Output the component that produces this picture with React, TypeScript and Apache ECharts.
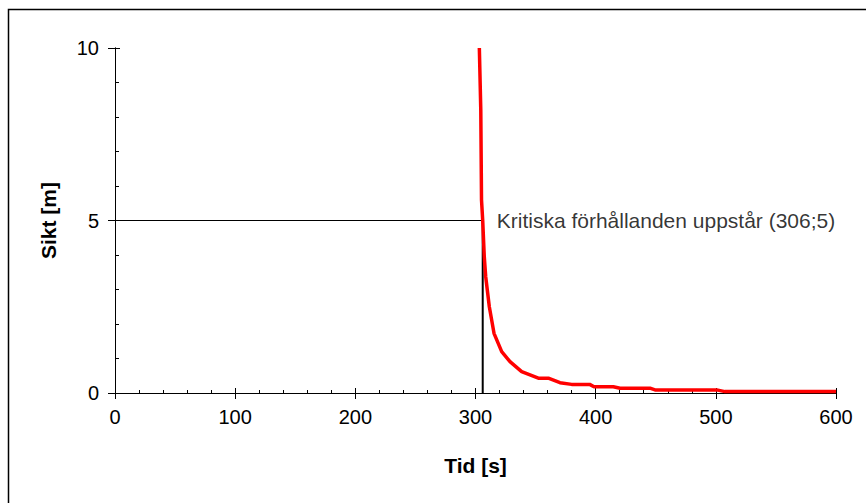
import React, { useEffect, useRef } from "react";
import * as echarts from "echarts";

const curveX = [303.2, 304.4, 305, 306, 307.3, 308.5, 311.5, 315.4, 321.8, 328.7, 338.4, 352.3, 360.6, 370.3, 380, 395, 398.6, 414.7, 420.3, 445.2, 449.4, 500.7, 507.6, 600];
const curveY = [10, 8.2, 5.6, 5, 3.95, 3.37, 2.5, 1.73, 1.2, 0.91, 0.62, 0.43, 0.43, 0.3, 0.25, 0.25, 0.18, 0.18, 0.14, 0.14, 0.09, 0.09, 0.04, 0.04];
const critX = 306;
const critY = 5;
const critText = "Kritiska förhållanden uppstår (306;5)";
const xName = "Tid [s]";
const yName = "Sikt [m]";
const xMin = 0, xMax = 600, xStep = 100;
const yMin = 0, yMax = 10, yStep = 5;

const FONT = "'Liberation Sans', Arial, sans-serif";

export default function App() {
  const ref = useRef<HTMLDivElement>(null);
  useEffect(() => {
    if (!ref.current) return;
    const chart = echarts.init(ref.current, null, { renderer: "svg" });
    const curve = curveX.map((x, i) => [x, curveY[i]]);
    const axisLine = { show: true, lineStyle: { color: "#000", width: 1 } };
    chart.setOption({
      animation: false,
      backgroundColor: "#fff",
      textStyle: { fontFamily: FONT },
      grid: { left: 115, right: 30, top: 48, bottom: 110, containLabel: false },
      graphic: [
        {
          type: "rect",
          shape: { x: 8.5, y: 9.5, width: 1000, height: 1000 },
          style: { fill: "none", stroke: "#000", lineWidth: 1.5 },
          silent: true,
        },
      ],
      xAxis: [
        {
          type: "value",
          min: xMin,
          max: xMax,
          interval: xStep,
          position: "bottom",
          axisLine: { ...axisLine, onZero: false },
          axisTick: { show: true, inside: false, length: 6, lineStyle: { color: "#000" } },
          axisLabel: { fontSize: 20, color: "#000", margin: 14, fontFamily: FONT },
          splitLine: { show: false },
          name: xName,
          nameLocation: "middle",
          nameGap: 62,
          nameTextStyle: { fontSize: 21, fontWeight: "bold", color: "#000", fontFamily: FONT },
        },
        {
          type: "value",
          min: xMin,
          max: xMax,
          interval: xStep,
          position: "bottom",
          axisLine: { ...axisLine, onZero: false },
          axisTick: { show: true, inside: true, length: 5, lineStyle: { color: "#000" } },
          minorTick: { show: true, splitNumber: 5, length: 3, lineStyle: { color: "#000" } },
          axisLabel: { show: false },
          splitLine: { show: false },
        },
      ],
      yAxis: [
        {
          type: "value",
          min: yMin,
          max: yMax,
          interval: yStep,
          position: "left",
          axisLine: { ...axisLine, onZero: false },
          axisTick: { show: true, inside: false, length: 7, lineStyle: { color: "#000" } },
          axisLabel: { fontSize: 20, color: "#000", margin: 16, fontFamily: FONT },
          splitLine: { show: false },
          name: yName,
          nameLocation: "middle",
          nameRotate: 90,
          nameGap: 56,
          nameTextStyle: { fontSize: 21, fontWeight: "bold", color: "#000", fontFamily: FONT },
        },
        {
          type: "value",
          min: yMin,
          max: yMax,
          interval: yStep,
          position: "left",
          axisLine: { ...axisLine, onZero: false },
          axisTick: { show: true, inside: true, length: 5, lineStyle: { color: "#000" } },
          minorTick: { show: true, splitNumber: 5, length: 4, lineStyle: { color: "#000" } },
          axisLabel: { show: false },
          splitLine: { show: false },
        },
      ],
      series: [
        {
          type: "line",
          data: [[xMin, critY], [critX, critY]],
          symbol: "none",
          lineStyle: { color: "#000", width: 1 },
          silent: true,
        },
        {
          type: "line",
          data: [[critX, critY], [critX, yMin]],
          symbol: "none",
          lineStyle: { color: "#000", width: 2 },
          silent: true,
        },
        {
          type: "line",
          data: curve,
          symbol: "none",
          lineStyle: { color: "#ff0000", width: 3.5 },
          silent: true,
        },
        {
          type: "scatter",
          data: [[critX, critY]],
          symbolSize: 0,
          silent: true,
          label: {
            show: true,
            position: "right",
            distance: 14,
            formatter: critText,
            fontSize: 21,
            color: "#000",
            fontFamily: FONT,
          },
        },
      ],
    });
    return () => chart.dispose();
  }, []);
  return (
    <div
      ref={ref}
      style={{ position: "fixed", left: 0, top: 0, width: 866, height: 503, background: "#fff" }}
    />
  );
}
